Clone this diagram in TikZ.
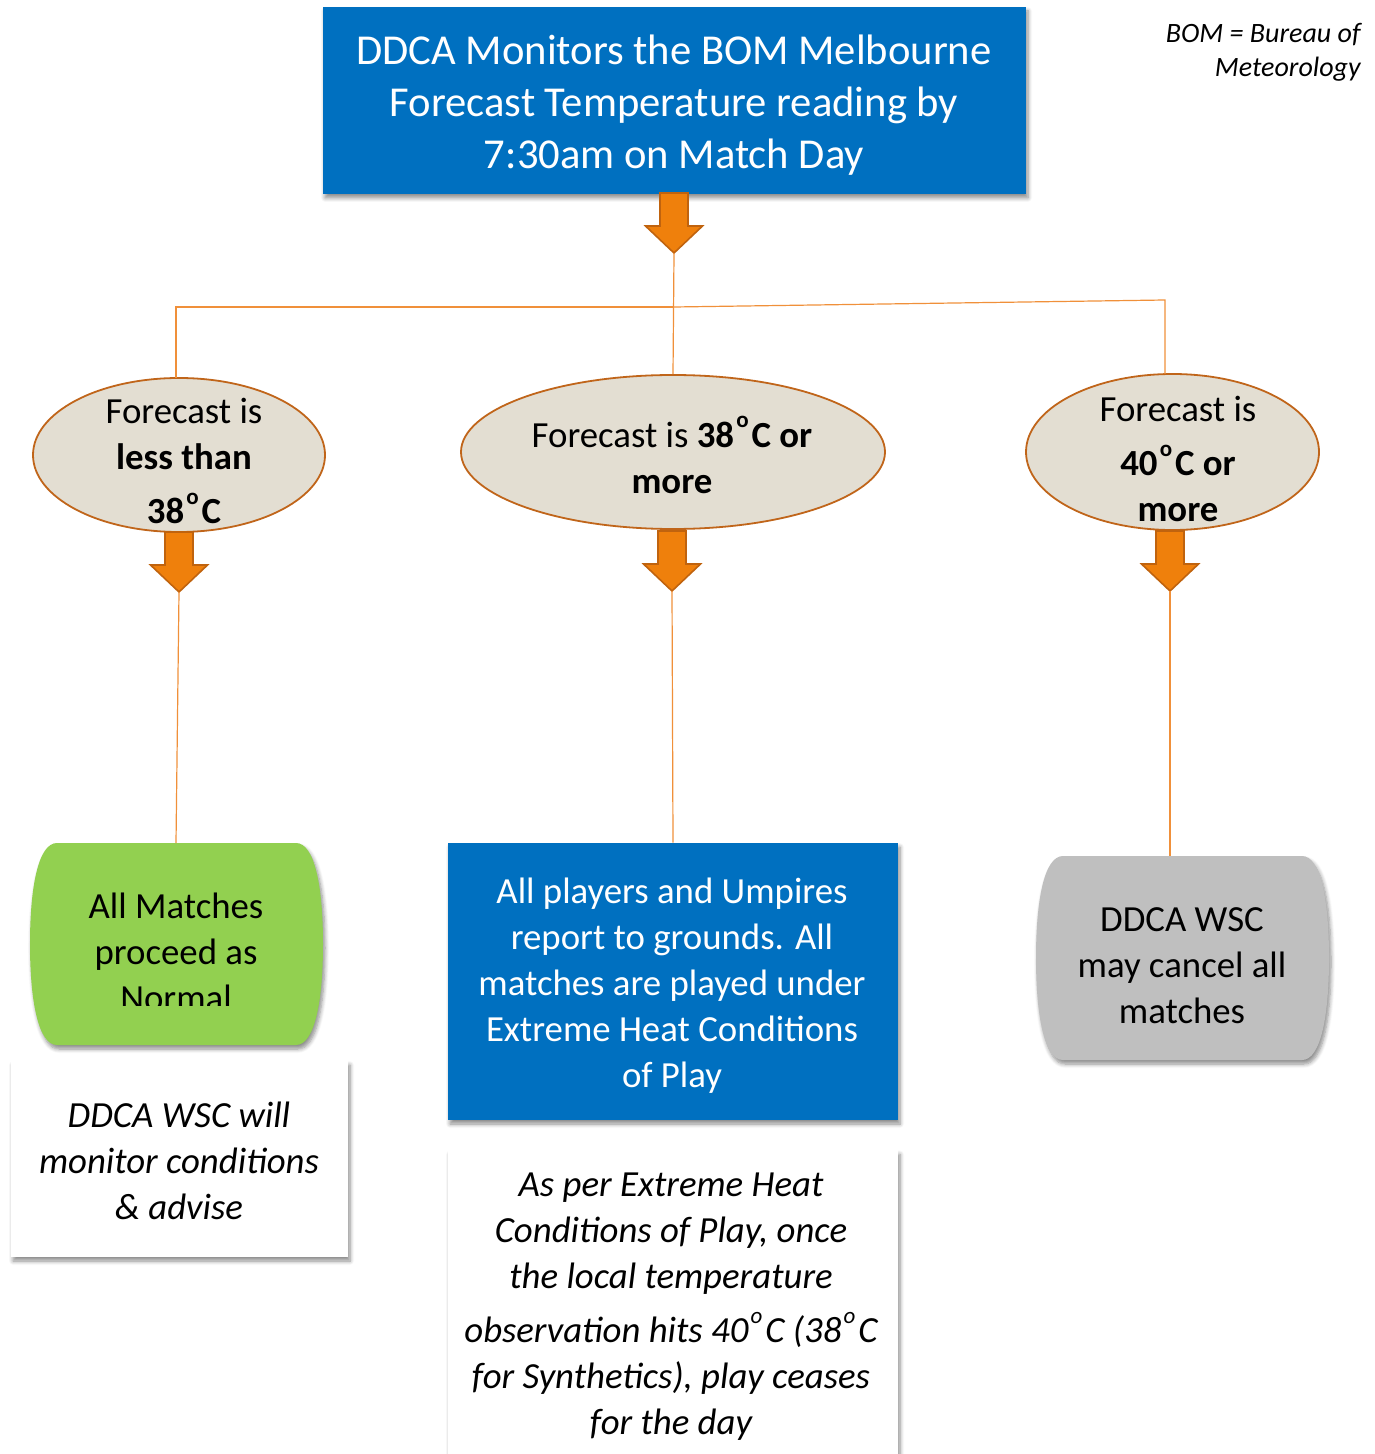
\documentclass[tikz,border=0pt]{standalone}
\usepackage{fontspec}
\setmainfont{Carlito}
\usetikzlibrary{shapes.geometric,shadows.blur}
\definecolor{bblue}{HTML}{0070C0}
\definecolor{ellfill}{HTML}{E3DED2}
\definecolor{elldraw}{HTML}{C0651A}
\definecolor{arrfill}{HTML}{EF800C}
\definecolor{arrdraw}{HTML}{C0630E}
\definecolor{conncol}{HTML}{F0903A}
\definecolor{ggreen}{HTML}{92D050}
\definecolor{ggray}{HTML}{BFBFBF}
\newcommand\supo{\kern0.06em\raisebox{0.52em}{\fontsize{11.5}{11.5}\selectfont o}\kern0.08em}
\newcommand\blockarrow[3]{%
  \draw[blockarr] (#1-14,#2) -- (#1+14,#2) -- (#1+14,#2+33) -- (#1+28.5,#2+33)
    -- (#1,#2+60) -- (#1-28.5,#2+33) -- (#1-14,#2+33) -- cycle;
  \coordinate (#3) at (#1,#2+60);}
\newcommand\termshape[5]{%
  \path[#5] (#1+27,#2) -- (#3-27,#2)
    .. controls (#3-8,#2) and (#3,#2+45) .. (#3,{(#2+#4)/2})
    .. controls (#3,#4-45) and (#3-8,#4) .. (#3-27,#4)
    -- (#1+27,#4)
    .. controls (#1+8,#4) and (#1,#4-45) .. (#1,{(#2+#4)/2})
    .. controls (#1,#2+45) and (#1+8,#2) .. (#1+27,#2) -- cycle;}
\begin{document}
\begin{tikzpicture}[x=0.5pt,y=-0.5pt,
  shad/.style={blur shadow={shadow xshift=1pt,shadow yshift=-2pt,shadow blur steps=6,shadow blur radius=2pt,shadow opacity=45}},
  blockarr/.style={fill=arrfill,draw=arrdraw,line width=0.8pt,line join=miter},
  conn/.style={draw=conncol,line width=0.6pt},
  ell/.style={ellipse,fill=ellfill,draw=elldraw,line width=0.9pt,inner sep=0pt},
  body/.style={font=\fontsize{18.4}{23}\selectfont,align=center,inner sep=0pt},
  ibody/.style={font=\itshape\fontsize{18.4}{23}\selectfont,align=center,inner sep=0pt},
  wbox/.style={fill=white,shad,inner sep=0pt},
]
\path[use as bounding box] (0,0) rectangle (1374,1454);
\clip (0,0) rectangle (1374,1454);

% top box
\node[fill=bblue,shad,minimum width=351.5pt,minimum height=93.5pt,inner sep=0pt] (top) at (674.5,100.5) {};
\node[text=white,font=\fontsize{21.3}{26}\selectfont,align=center,inner sep=0pt] (topt) at (674,105)
  {DDCA Monitors the BOM Melbourne\\Forecast Temperature reading by\\7:30am on Match Day};

\node[font=\itshape\fontsize{14}{17}\selectfont,align=right,anchor=east,inner sep=0pt] (bom)
  at (1361,52) {BOM = Bureau of\\Meteorology};

\blockarrow{674}{193}{tipT}

% ellipses
\node[ell,minimum width=146pt,minimum height=77pt] (eL) at (179,455) {};
\node[ell,minimum width=212pt,minimum height=77pt] (eM) at (673,452) {};
\node[ell,minimum width=146.5pt,minimum height=78pt] (eR) at (1172.5,452) {};

% connectors
\coordinate (jL) at (176,307);
\coordinate (jM) at (674,307);
\coordinate (jR) at (1165,300);
\draw[conn] (tipT) -- (eM.north);
\draw[conn] (jM) -- (jL) -- (176,378);
\draw[conn] (jM) -- (jR) -- (1165,374);

\node[body] (tL) at (184,461) {Forecast is\\\textbf{less than}\\[4pt]\textbf{38\supo C}};
\node[body] (tM) at (672,455) {Forecast is \textbf{38\supo C or}\\\textbf{more}};
\node[body] (tR) at (1178,459) {Forecast is\\[4pt]\textbf{40\supo C or}\\\textbf{more}};

\blockarrow{179}{532}{tipL}
\blockarrow{672}{531}{tipM}
\blockarrow{1170}{531}{tipR}

% bottom shapes
\termshape{30}{843}{323}{1045}{fill=ggreen,shad}
\coordinate (gLtop) at (176,843);
\begin{scope}
  \clip (30,843) rectangle (323,1005);
  \node[body] (gL) at (176,952) {All Matches\\proceed as\\Normal};
\end{scope}

\node[fill=bblue,shad,minimum width=225pt,minimum height=138.5pt,inner sep=0pt] (bM) at (673,981.5) {};
\node[body,text=white] (bMt) at (672,986) {All players and Umpires\\report to grounds. All\\matches are played under\\Extreme Heat Conditions\\of Play};

\termshape{1036}{856}{1329}{1060}{fill=ggray,shad}
\coordinate (gRtop) at (1170,856);
\node[body] (gR) at (1182,966) {DDCA WSC\\may cancel all\\matches};

\draw[conn] (tipL) -- (gLtop);
\draw[conn] (tipM) -- (bM.north);
\draw[conn] (tipR) -- (gRtop);

% white boxes
\node[wbox,minimum width=168.5pt,minimum height=98pt] (w1) at (179.5,1159) {};
\node[ibody] (w1t) at (179,1161) {DDCA WSC will\\monitor conditions\\\& advise};

\node[wbox,minimum width=225pt,minimum height=170pt,anchor=north] (w2) at (673,1150) {};
\node[ibody] (w2t) at (671,1307) {As per Extreme Heat\\Conditions of Play, once\\the local temperature\\[4pt]observation hits 40\supo C (38\supo C\\for Synthetics), play ceases\\for the day};
\end{tikzpicture}
\end{document}
